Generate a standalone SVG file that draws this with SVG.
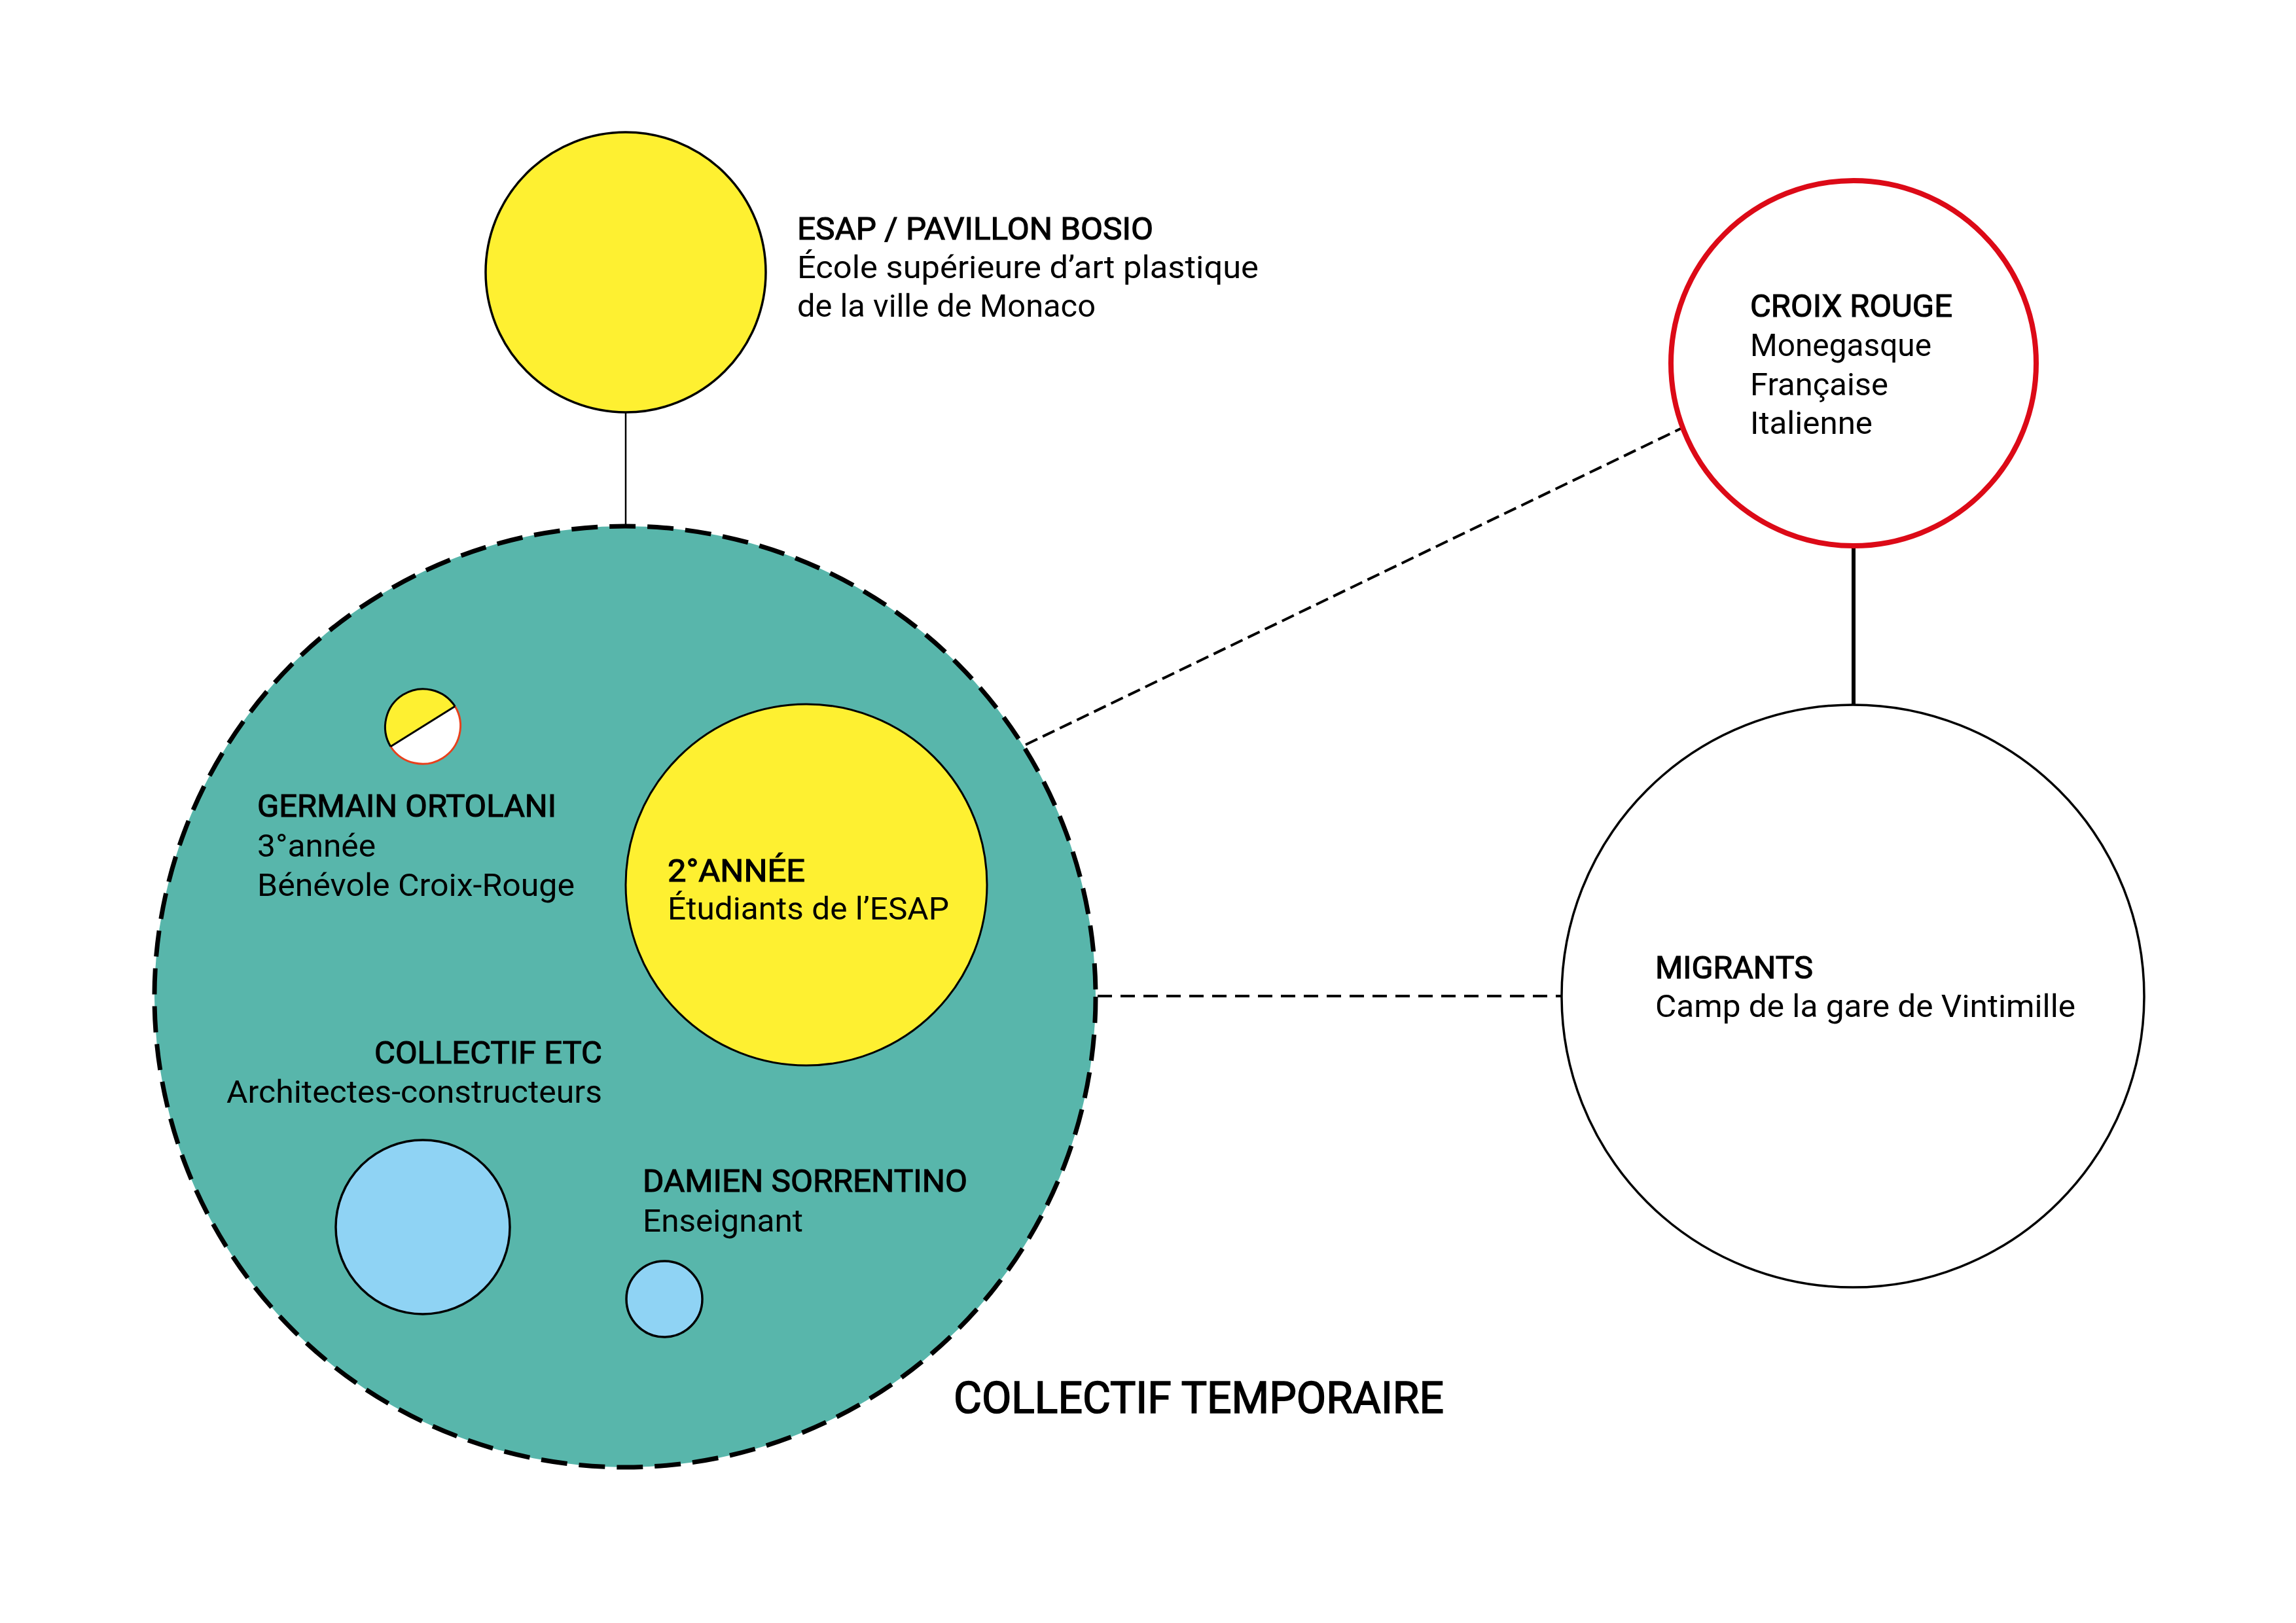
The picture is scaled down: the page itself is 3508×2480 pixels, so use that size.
<svg xmlns="http://www.w3.org/2000/svg" width="3508" height="2480" viewBox="0 0 3508 2480">
<style>
.h{font-family:Roboto,"Liberation Sans",sans-serif;font-weight:400;font-size:49px;fill:#000;stroke:#000;stroke-width:1.2}
.t{font-family:Roboto,"Liberation Sans",sans-serif;font-weight:400;font-size:49px;fill:#000}
.big{font-family:Roboto,"Liberation Sans",sans-serif;font-weight:400;font-size:66px;fill:#000;stroke:#000;stroke-width:1.6}
.solid{stroke:#000;fill:none}
.dash{stroke:#000;fill:none;stroke-width:4}
</style>
<rect width="3508" height="2480" fill="#fff"/>
<g id="connectors">
<line class="solid" x1="956" y1="631" x2="956" y2="806" stroke-width="2.5"/>
<line class="solid" x1="2832" y1="834" x2="2832" y2="1078" stroke-width="6"/>
<line class="dash" x1="1567" y1="1138" x2="2574" y2="652" stroke-dasharray="20 9"/>
<line class="dash" x1="1677" y1="1522" x2="2385" y2="1522" stroke-dasharray="22 13"/>
</g>
<g id="collectif-temporaire">
<circle cx="955" cy="1523" r="719" fill="#58B6AB" stroke="#000" stroke-width="7" stroke-dasharray="40 18"/>
<text class="big" x="1457" y="2159" textLength="749" lengthAdjust="spacingAndGlyphs">COLLECTIF TEMPORAIRE</text>
</g>
<g id="esap">
<circle cx="956" cy="416" r="214" fill="#FEF031" stroke="#000" stroke-width="3.5"/>
<text class="h" x="1218" y="366" textLength="544" lengthAdjust="spacingAndGlyphs">ESAP / PAVILLON BOSIO</text>
<text class="t" x="1218" y="425" textLength="705" lengthAdjust="spacingAndGlyphs">École supérieure d’art plastique</text>
<text class="t" x="1218" y="484" textLength="456" lengthAdjust="spacingAndGlyphs">de la ville de Monaco</text>
</g>
<g id="croix-rouge">
<circle cx="2832" cy="555" r="279" fill="#fff" stroke="#DC0A17" stroke-width="8"/>
<text class="h" x="2674" y="484" textLength="309" lengthAdjust="spacingAndGlyphs">CROIX ROUGE</text>
<text class="t" x="2674" y="544" textLength="277" lengthAdjust="spacingAndGlyphs">Monegasque</text>
<text class="t" x="2674" y="604" textLength="211" lengthAdjust="spacingAndGlyphs">Française</text>
<text class="t" x="2674" y="663" textLength="187" lengthAdjust="spacingAndGlyphs">Italienne</text>
</g>
<g id="migrants">
<circle cx="2831" cy="1522" r="445" fill="#fff" stroke="#000" stroke-width="3.5"/>
<text class="h" x="2529" y="1495" textLength="241" lengthAdjust="spacingAndGlyphs">MIGRANTS</text>
<text class="t" x="2529" y="1554" textLength="642" lengthAdjust="spacingAndGlyphs">Camp de la gare de Vintimille</text>
</g>
<g id="deuxieme-annee">
<circle cx="1232" cy="1352" r="276" fill="#FEF031" stroke="#000" stroke-width="3"/>
<text class="h" x="1020" y="1347" textLength="210" lengthAdjust="spacingAndGlyphs">2°ANNÉE</text>
<text class="t" x="1020" y="1405" textLength="430" lengthAdjust="spacingAndGlyphs">Étudiants de l’ESAP</text>
</g>
<g id="germain-ortolani">
<path d="M596.8 1140.7 A58 58 0 0 1 695.2 1079.3 Z" fill="#FEF031"/>
<path d="M695.2 1079.3 A58 58 0 0 1 596.8 1140.7 Z" fill="#fff"/>
<path d="M596.8 1140.7 A58 58 0 0 1 695.2 1079.3" fill="none" stroke="#000" stroke-width="3"/>
<path d="M695.2 1079.3 A58 58 0 0 1 596.8 1140.7" fill="none" stroke="#E8401C" stroke-width="3"/>
<line x1="596.8" y1="1140.7" x2="695.2" y2="1079.3" stroke="#000" stroke-width="3"/>
<text class="h" x="393" y="1248" textLength="457" lengthAdjust="spacingAndGlyphs">GERMAIN ORTOLANI</text>
<text class="t" x="393" y="1309" textLength="181" lengthAdjust="spacingAndGlyphs">3°année</text>
<text class="t" x="393" y="1369" textLength="485" lengthAdjust="spacingAndGlyphs">Bénévole Croix-Rouge</text>
</g>
<g id="collectif-etc">
<circle cx="646" cy="1875" r="133" fill="#8FD3F4" stroke="#000" stroke-width="3.5"/>
<text class="h" x="920" y="1625" text-anchor="end" textLength="348" lengthAdjust="spacingAndGlyphs">COLLECTIF ETC</text>
<text class="t" x="920" y="1685" text-anchor="end" textLength="574" lengthAdjust="spacingAndGlyphs">Architectes-constructeurs</text>
</g>
<g id="damien-sorrentino">
<circle cx="1015" cy="1985" r="58" fill="#8FD3F4" stroke="#000" stroke-width="3.5"/>
<text class="h" x="982" y="1821" textLength="496" lengthAdjust="spacingAndGlyphs">DAMIEN SORRENTINO</text>
<text class="t" x="982" y="1882" textLength="245" lengthAdjust="spacingAndGlyphs">Enseignant</text>
</g>
</svg>
